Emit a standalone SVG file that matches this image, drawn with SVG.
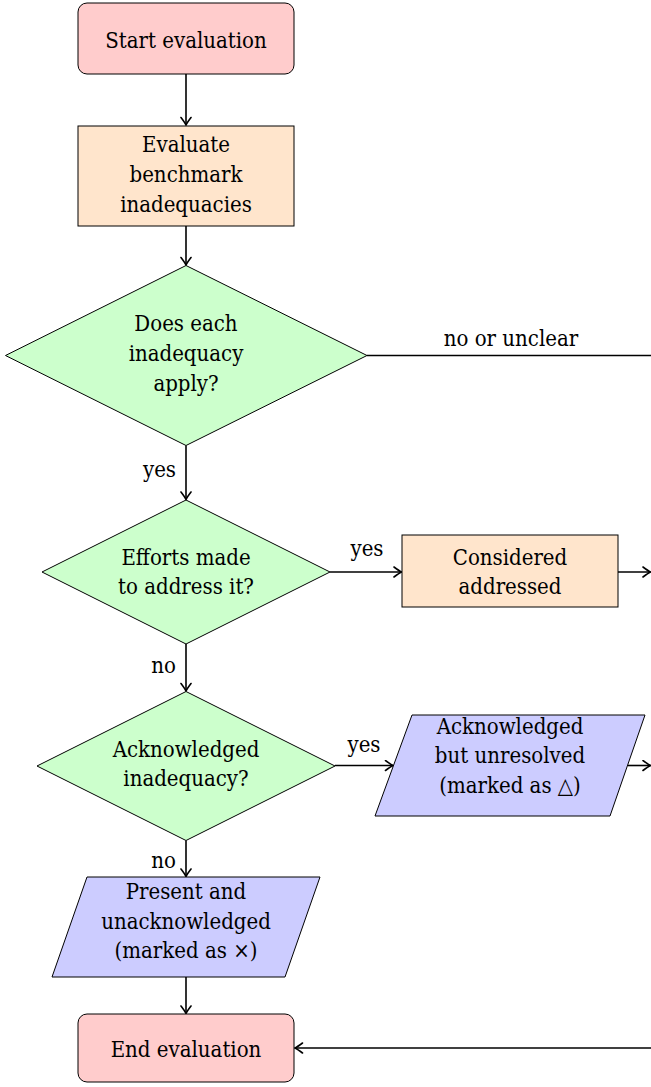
<svg xmlns="http://www.w3.org/2000/svg" width="651" height="1087" viewBox="0 0 651 1087">
<defs>
<style>
text{font-family:'DejaVu Serif Condensed','DejaVu Serif',serif;font-stretch:condensed;font-size:22px;fill:#000;text-anchor:middle}
.end{text-anchor:end}
.term{fill:#FFCCCC;stroke:#000;stroke-width:1}
.proc{fill:#FFE5CC;stroke:#000;stroke-width:1}
.dec{fill:#CCFFCC;stroke:#000;stroke-width:1}
.io{fill:#CCCCFF;stroke:#000;stroke-width:1}
.edge{fill:none;stroke:#000;stroke-width:1.6;marker-end:url(#arr)}
.plain{fill:none;stroke:#000;stroke-width:1.6}
</style>
<marker id="arr" viewBox="-9 -6 10 12" refX="0" refY="0" markerWidth="10" markerHeight="12" markerUnits="userSpaceOnUse" orient="auto">
<path d="M-7.5,-5 Q-2.5,-1.2 0,0 Q-2.5,1.2 -7.5,5" fill="none" stroke="#000" stroke-width="1.6" stroke-linecap="round"/>
</marker>
</defs>

<g id="connectors">
<line class="edge" x1="186" y1="74" x2="186" y2="125"/>
<line class="edge" x1="186" y1="226" x2="186" y2="265"/>
<line class="plain" x1="367" y1="355.5" x2="651" y2="355.5"/>
<text x="511" y="346">no or unclear</text>
<line class="edge" x1="186" y1="445.5" x2="186" y2="499.5"/>
<text class="end" x="176" y="477">yes</text>
<line class="edge" x1="330" y1="572" x2="401.5" y2="572"/>
<text x="367" y="556">yes</text>
<line class="edge" x1="618" y1="572" x2="650.5" y2="572"/>
<line class="edge" x1="186" y1="644" x2="186" y2="691"/>
<text class="end" x="176" y="673">no</text>
<line class="edge" x1="335" y1="765.5" x2="393" y2="765.5"/>
<text x="364" y="752">yes</text>
<line class="edge" x1="628" y1="765.5" x2="650.5" y2="765.5"/>
<line class="edge" x1="186" y1="840.5" x2="186" y2="876.5"/>
<text class="end" x="176" y="868">no</text>
<line class="edge" x1="186" y1="977" x2="186" y2="1013.5"/>
<line class="edge" x1="651" y1="1048" x2="295" y2="1048"/>
</g>

<g id="start">
<rect class="term" x="78" y="3" width="216" height="71" rx="9"/>
<text x="186" y="47.5">Start evaluation</text>
</g>

<g id="evaluate">
<rect class="proc" x="78" y="126" width="216" height="100"/>
<text x="186" y="152">Evaluate</text>
<text x="186" y="182">benchmark</text>
<text x="186" y="212">inadequacies</text>
</g>

<g id="applies">
<polygon class="dec" points="186,265.5 367,355.5 186,445.5 5.5,355.5"/>
<text x="186" y="331">Does each</text>
<text x="186" y="361">inadequacy</text>
<text x="186" y="391">apply?</text>
</g>

<g id="efforts">
<polygon class="dec" points="186,500 330,572 186,644 42,572"/>
<text x="186" y="565">Efforts made</text>
<text x="186" y="594">to address it?</text>
</g>

<g id="addressed">
<rect class="proc" x="402" y="535" width="216" height="72"/>
<text x="510" y="565">Considered</text>
<text x="510" y="594">addressed</text>
</g>

<g id="acknowledged">
<polygon class="dec" points="186,691.5 335,766 186,840.5 37,766"/>
<text x="186" y="757">Acknowledged</text>
<text x="186" y="786">inadequacy?</text>
</g>

<g id="unresolved">
<polygon class="io" points="412,715 645,715 610,816 375,816"/>
<text x="510" y="734">Acknowledged</text>
<text x="510" y="763">but unresolved</text>
<text x="510" y="793">(marked as △)</text>
</g>

<g id="unacknowledged">
<polygon class="io" points="87,877 320,877 285,977 52,977"/>
<text x="186" y="899">Present and</text>
<text x="186" y="929">unacknowledged</text>
<text x="186" y="958">(marked as ×)</text>
</g>

<g id="end">
<rect class="term" x="78" y="1014" width="216" height="68" rx="9"/>
<text x="186" y="1057">End evaluation</text>
</g>
</svg>
